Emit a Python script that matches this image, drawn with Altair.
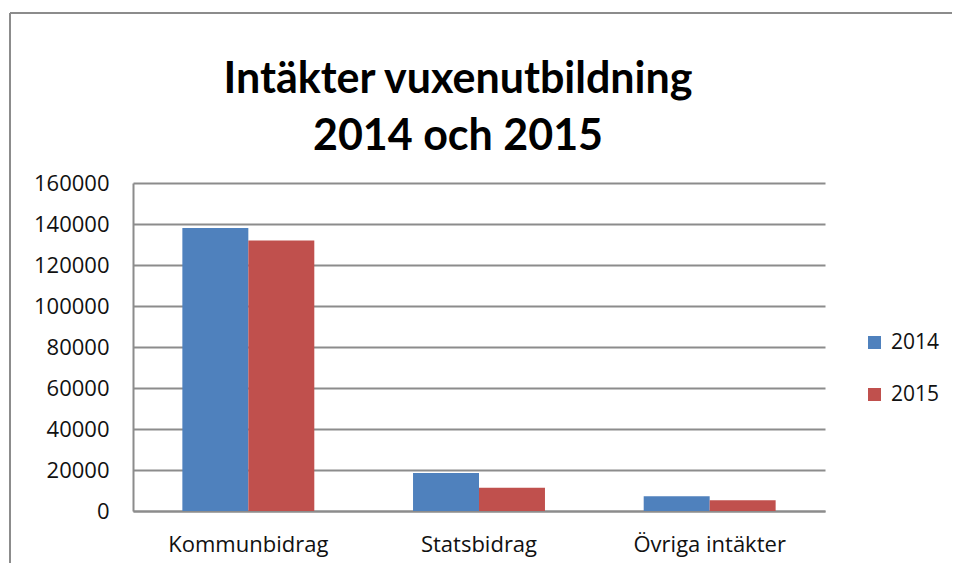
import altair as alt
import pandas as pd

categories = ["Kommunbidrag", "Statsbidrag", "Övriga intäkter"]
years = ["2014", "2015"]
values_2014 = [138000, 18500, 7200]
values_2015 = [132000, 11400, 5200]
y_ticks = [0, 20000, 40000, 60000, 80000, 100000, 120000, 140000, 160000]
colors = ["#4F81BD", "#C0504D"]

rows = []
for c, a, b in zip(categories, values_2014, values_2015):
    rows.append({"kategori": c, "år": years[0], "värde": a})
    rows.append({"kategori": c, "år": years[1], "värde": b})
df = pd.DataFrame(rows)

FONT = "Open Sans"
TFONT = "Lato"
GRID = "#8c8c8c"
TXT = "#111111"

bars = alt.Chart(df).mark_bar().encode(
    x=alt.X(
        "kategori:N",
        sort=categories,
        scale=alt.Scale(paddingInner=0.428, paddingOuter=0.214),
        axis=alt.Axis(
            title=None, labelAngle=0, ticks=False, domainColor=GRID, domainWidth=2,
            labelPadding=23, labelFontSize=22, labelColor=TXT, labelFont=FONT,
        ),
    ),
    xOffset=alt.XOffset("år:N", sort=years, scale=alt.Scale(paddingInner=0, paddingOuter=0)),
    y=alt.Y(
        "värde:Q",
        scale=alt.Scale(domain=[0, 160000], nice=False),
        axis=alt.Axis(
            values=y_ticks, title=None, format="d", ticks=False,
            grid=True, gridColor=GRID, gridWidth=2,
            domainColor=GRID, domainWidth=2,
            labelPadding=24, labelFontSize=22, labelColor=TXT, labelFont=FONT,
        ),
    ),
    color=alt.Color(
        "år:N",
        scale=alt.Scale(domain=years, range=colors),
        legend=alt.Legend(
            title=None, orient="none", legendX=731, legendY=149,
            symbolType="square", symbolSize=169, symbolStrokeWidth=0,
            labelFontSize=21, labelFont=FONT, labelColor=TXT,
            rowPadding=30, labelOffset=6, padding=0,
        ),
    ),
)

frame_df = pd.DataFrame({"f": [0]})
left_line = alt.Chart(frame_df).mark_rule(color="#8c8c8c", strokeWidth=2).encode(
    x=alt.value(-123), y=alt.value(-170), y2=alt.value(380)
)
top_line = alt.Chart(frame_df).mark_rule(color="#8c8c8c", strokeWidth=2).encode(
    x=alt.value(-123), x2=alt.value(819), y=alt.value(-170)
)

chart = alt.layer(bars, left_line, top_line).properties(
    width=692,
    height=328,
    autosize=alt.AutoSizeParams(type="none"),
    padding={"left": 125, "top": 175, "right": 127, "bottom": 52},
    title=alt.Title(
        ["Intäkter vuxenutbildning", "2014 och 2015"],
        anchor="middle", dx=-21, fontSize=43, font=TFONT, fontWeight="bold",
        color="#000000", lineHeight=57, offset=-147,
    ),
).configure_view(stroke=None)

chart.save("out.html", embed_options={"renderer": "svg", "actions": False})
